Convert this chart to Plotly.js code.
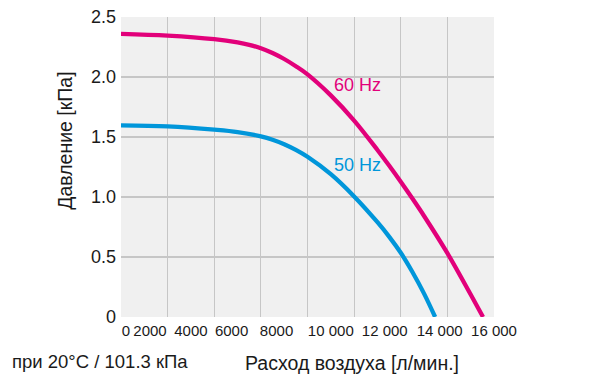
<!DOCTYPE html>
<html>
<head>
<meta charset="utf-8">
<script src="https://cdn.plot.ly/plotly-3.0.1.min.js"></script>
<style>html,body{margin:0;padding:0;background:#fff;}#chart{width:600px;height:377px;}</style>
</head>
<body>
<div id="chart"></div>
<script>
// Airflow [л/мин.] and pressure [кПа]
const flow60 = [0, 2000, 4000, 5000, 5500, 6000, 6500, 7000, 7500, 8000, 9000, 10000, 11000, 11500, 12000, 12500, 13000, 14000, 15000, 15530];
const pres60 = [2.36, 2.345, 2.315, 2.288, 2.268, 2.24, 2.20, 2.15, 2.09, 2.022, 1.847, 1.637, 1.392, 1.262, 1.127, 0.987, 0.842, 0.532, 0.187, 0];
const flow50 = [0, 2000, 4000, 5000, 6000, 6500, 7000, 7500, 8000, 9000, 10000, 11000, 11500, 12000, 12500, 13000, 13475];
const pres50 = [1.597, 1.588, 1.561, 1.541, 1.505, 1.4775, 1.44, 1.3925, 1.335, 1.19, 1.005, 0.79, 0.67, 0.535, 0.375, 0.195, 0];

const gridX = [0, 2000, 4000, 6000, 8000, 10000, 12000, 14000, 16000];
// label anchor positions (labels in the reference are packed, not centred on grid lines)
const xLabelPos = [214, 1243, 3000, 4744, 6672, 9000, 11314, 13671, 16000];
const xLabelText = ['0', '2000', '4000', '6000', '8000', '10 000', '12 000', '14 000', '16 000'];
const yTickVals = [0, 0.5, 1.0, 1.5, 2.0, 2.5];
const yTickText = ['0', '0.5', '1.0', '1.5', '2.0', '2.5'];

const seriesNames = ['60 Hz', '50 Hz'];
const labelX = [10157, 10157];
const labelY = [1.936, 1.269];

const C60 = '#e2007a', C50 = '#0096da';
const FONT = 'Liberation Sans, Arial, Helvetica, sans-serif';

const traces = [
  {x: flow60, y: pres60, mode: 'lines', line: {color: C60, width: 4.3, shape: 'spline', smoothing: 1}, name: seriesNames[0], hoverinfo: 'skip'},
  {x: flow50, y: pres50, mode: 'lines', line: {color: C50, width: 4.3, shape: 'spline', smoothing: 1}, name: seriesNames[1], hoverinfo: 'skip'}
];

const layout = {
  width: 600, height: 377,
  margin: {l: 121, r: 106, t: 17, b: 60},
  paper_bgcolor: '#ffffff',
  plot_bgcolor: '#f0f0f0',
  showlegend: false,
  font: {family: FONT, color: '#1a1a1a'},
  xaxis: {
    range: [0, 16000],
    tickmode: 'array', tickvals: xLabelPos, ticktext: xLabelText,
    showgrid: false, zeroline: false, showline: false, ticks: '',
    tickfont: {size: 15, family: FONT, color: '#1a1a1a'},
    ticklabelstandoff: 3,
    minor: {tickmode: 'array', tickvals: gridX, showgrid: true, gridcolor: '#c6c6c6', gridwidth: 1.2, ticks: ''}
  },
  yaxis: {
    range: [0, 2.5],
    tickmode: 'array', tickvals: yTickVals, ticktext: yTickText,
    showgrid: true, gridcolor: '#c6c6c6', gridwidth: 1.2,
    zeroline: false, showline: false, ticks: '',
    tickfont: {size: 18, family: FONT, color: '#1a1a1a'},
    ticklabelstandoff: 4
  },
  annotations: [
    {text: seriesNames[0], x: labelX[0], y: labelY[0], xref: 'x', yref: 'y', showarrow: false, xanchor: 'center', yanchor: 'middle', font: {size: 18, color: C60, family: FONT}},
    {text: seriesNames[1], x: labelX[1], y: labelY[1], xref: 'x', yref: 'y', showarrow: false, xanchor: 'center', yanchor: 'middle', font: {size: 18, color: C50, family: FONT}},
    {text: 'Давление [кПа]', xref: 'paper', yref: 'paper', x: -0.150, y: 0.5877, textangle: -90, showarrow: false, xanchor: 'center', yanchor: 'middle', font: {size: 19.5, family: FONT, color: '#1a1a1a'}},
    {text: 'Расход воздуха [л/мин.]', xref: 'paper', yref: 'paper', x: 0.6185, y: -0.153, showarrow: false, xanchor: 'center', yanchor: 'middle', font: {size: 19.5, family: FONT, color: '#1a1a1a'}},
    {text: 'при 20°C / 101.3 кПа', xref: 'paper', yref: 'paper', x: -0.2976, y: -0.148, showarrow: false, xanchor: 'left', yanchor: 'middle', font: {size: 18.5, family: FONT, color: '#1a1a1a'}}
  ]
};

Plotly.newPlot('chart', traces, layout, {displayModeBar: false, staticPlot: true});
</script>
</body>
</html>
